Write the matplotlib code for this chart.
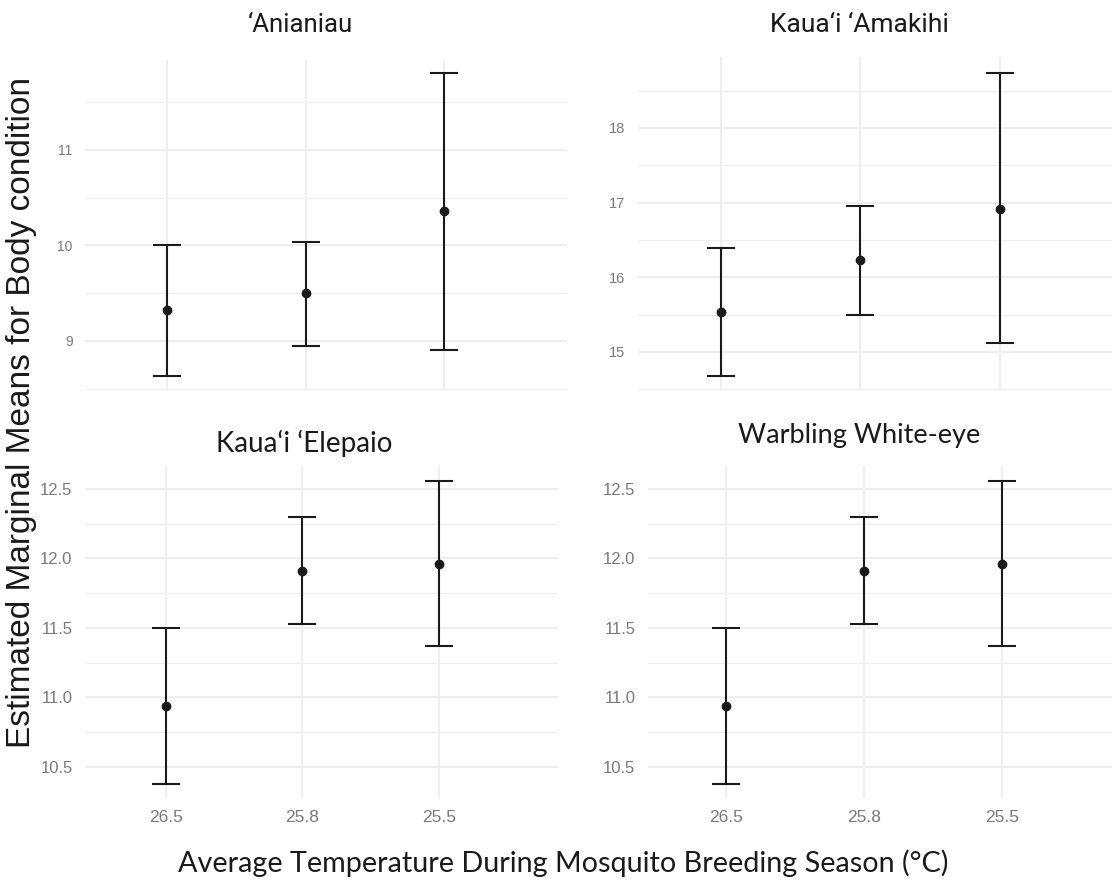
import matplotlib
matplotlib.use("Agg")
import matplotlib.pyplot as plt
import numpy as np

# temperature groups (x categories, in plotted order)
temps = ["26.5", "25.8", "25.5"]

# 'Anianiau
anianiau_mean = [9.32, 9.50, 10.36]
anianiau_low = [8.63, 8.95, 8.91]
anianiau_high = [10.00, 10.04, 11.80]

# Kaua'i 'Amakihi
amakihi_mean = [15.53, 16.23, 16.92]
amakihi_low = [14.68, 15.50, 15.12]
amakihi_high = [16.39, 16.95, 18.73]

# Kaua'i 'Elepaio
elepaio_mean = [10.94, 11.91, 11.96]
elepaio_low = [10.38, 11.53, 11.37]
elepaio_high = [11.50, 12.30, 12.56]

# Warbling White-eye
whiteeye_mean = [10.94, 11.91, 11.96]
whiteeye_low = [10.38, 11.53, 11.37]
whiteeye_high = [11.50, 12.30, 12.56]

W, H = 1112, 882
fig = plt.figure(figsize=(W / 100, H / 100), dpi=100)
fig.patch.set_facecolor("white")

def px_axes(x0, y0, x1, y1):
    return fig.add_axes([x0 / W, 1 - y1 / H, (x1 - x0) / W, (y1 - y0) / H])

# panel boxes in pixels and axis limits
panels = [
    dict(box=(85, 60, 567, 390), xlim=(-0.592, 2.888), ylim=(8.487, 11.94),
         major=[9, 10, 11], minor=[8.5, 9.5, 10.5, 11.5], fmt="{:.0f}",
         mean=anianiau_mean, low=anianiau_low, high=anianiau_high,
         ytick_size=10, xticks=False),
    dict(box=(638, 57, 1112, 390), xlim=(-0.595, 2.803), ylim=(14.49, 18.95),
         major=[15, 16, 17, 18], minor=[14.5, 15.5, 16.5, 17.5, 18.5], fmt="{:.0f}",
         mean=amakihi_mean, low=amakihi_low, high=amakihi_high,
         ytick_size=10.5, xticks=False),
    dict(box=(85, 466, 558, 798), xlim=(-0.593, 2.872), ylim=(10.277, 12.665),
         major=[10.5, 11.0, 11.5, 12.0, 12.5], minor=[10.75, 11.25, 11.75, 12.25], fmt="{:.1f}",
         mean=elepaio_mean, low=elepaio_low, high=elepaio_high,
         ytick_size=12, xticks=True),
    dict(box=(648, 466, 1112, 798), xlim=(-0.565, 2.797), ylim=(10.277, 12.665),
         major=[10.5, 11.0, 11.5, 12.0, 12.5], minor=[10.75, 11.25, 11.75, 12.25], fmt="{:.1f}",
         mean=whiteeye_mean, low=whiteeye_low, high=whiteeye_high,
         ytick_size=12, xticks=True),
]

grid_col = "#eeeeee"
tick_col = "#7a7a7a"

for p in panels:
    ax = px_axes(*p["box"])
    ax.set_facecolor("white")
    for s in ax.spines.values():
        s.set_visible(False)
    x = np.arange(len(temps))
    mean = np.array(p["mean"])
    low = np.array(p["low"])
    high = np.array(p["high"])

    # grid lines (ggplot minimal style)
    for v in p["minor"]:
        ax.axhline(v, color=grid_col, lw=0.8, zorder=0)
    for v in p["major"]:
        ax.axhline(v, color=grid_col, lw=1.4, zorder=0)
    for xi in x:
        ax.axvline(xi, color=grid_col, lw=1.4, zorder=0)

    ax.errorbar(x, mean, yerr=[mean - low, high - mean], fmt="o", color="#1a1a1a",
                ecolor="#1a1a1a", elinewidth=1.5, capsize=10, capthick=1.5,
                markersize=6, zorder=3)

    ax.set_xlim(*p["xlim"])
    ax.set_ylim(*p["ylim"])
    ax.set_yticks(p["major"])
    ax.set_yticklabels([p["fmt"].format(v) for v in p["major"]],
                       color=tick_col, fontsize=p["ytick_size"], family="Liberation Sans")
    ax.tick_params(axis="y", length=0, pad=9)
    ax.set_xticks(x)
    if p["xticks"]:
        ax.set_xticklabels(temps, color=tick_col, fontsize=12.5, family="Liberation Sans")
        ax.tick_params(axis="x", length=0, pad=9)
    else:
        ax.set_xticklabels([])
        ax.tick_params(axis="x", length=0)

# panel titles
fig.text(300 / W, 1 - 25 / H, "\u2018Anianiau", ha="center", va="center",
         fontsize=18.5, family="Roboto", color="#1a1a1a")
fig.text(859 / W, 1 - 25 / H, "Kaua\u2018i \u2018Amakihi", ha="center", va="center",
         fontsize=19, family="Roboto", color="#1a1a1a")
fig.text(304 / W, 1 - 443 / H, "Kaua\u2018i \u2018Elepaio", ha="center", va="center",
         fontsize=20, family="Lato", color="#1a1a1a")
fig.text(859 / W, 1 - 435 / H, "Warbling White-eye", ha="center", va="center",
         fontsize=19.5, family="Lato", color="#1a1a1a")

# shared axis labels
fig.text(22 / W, 1 - 413 / H, "Estimated Marginal Means for Body condition",
         rotation=90, ha="center", va="center", fontsize=24,
         family="Liberation Sans", color="#1a1a1a")
fig.text(563 / W, 1 - 863 / H, "Average Temperature During Mosquito Breeding Season (\u00b0C)",
         ha="center", va="center", fontsize=20.7, family="Lato", color="#1a1a1a")

fig.savefig("out.png", dpi=100, facecolor="white")
